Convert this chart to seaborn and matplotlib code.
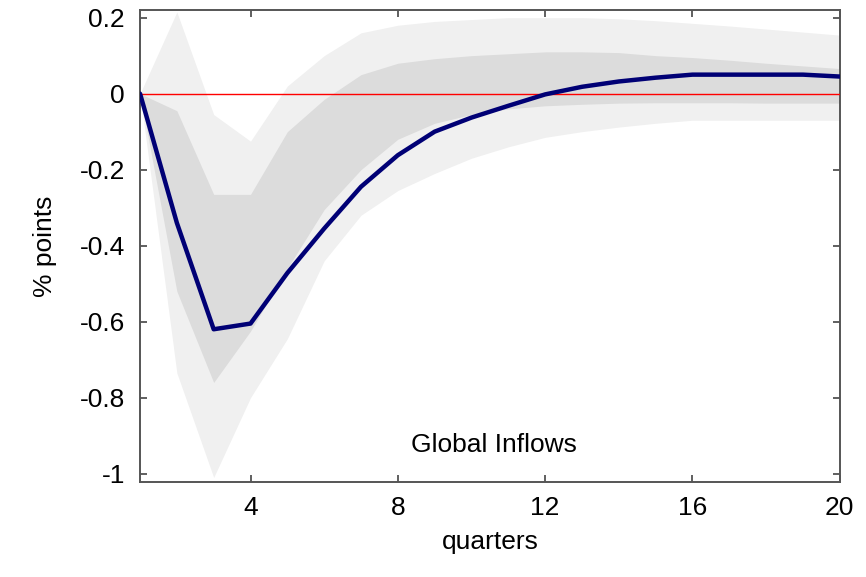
import numpy as np
import pandas as pd
import seaborn as sns
import matplotlib.pyplot as plt

# impulse response, quarters 1..20
quarters = list(range(1, 21))
response = [0.0, -0.34, -0.62, -0.605, -0.472, -0.355, -0.245, -0.162, -0.10, -0.063,
            -0.032, -0.002, 0.018, 0.032, 0.042, 0.05, 0.05, 0.05, 0.05, 0.045]
inner_upper = [0.0, -0.045, -0.265, -0.265, -0.10, -0.015, 0.05, 0.08, 0.092, 0.10,
               0.105, 0.11, 0.11, 0.108, 0.10, 0.095, 0.088, 0.08, 0.073, 0.066]
inner_lower = [0.0, -0.52, -0.76, -0.625, -0.46, -0.305, -0.20, -0.12, -0.078, -0.055,
               -0.04, -0.032, -0.028, -0.025, -0.024, -0.024, -0.024, -0.025, -0.025, -0.025]
outer_upper = [0.0, 0.215, -0.055, -0.125, 0.02, 0.10, 0.16, 0.18, 0.19, 0.195,
               0.20, 0.20, 0.20, 0.197, 0.192, 0.185, 0.178, 0.17, 0.162, 0.154]
outer_lower = [0.0, -0.735, -1.01, -0.80, -0.645, -0.44, -0.32, -0.255, -0.21, -0.17,
               -0.14, -0.115, -0.10, -0.088, -0.078, -0.07, -0.07, -0.07, -0.07, -0.07]
x_ticks = [4, 8, 12, 16, 20]
y_ticks = [0.2, 0, -0.2, -0.4, -0.6, -0.8, -1]
y_tick_labels = ['0.2', '0', '-0.2', '-0.4', '-0.6', '-0.8', '-1']

df = pd.DataFrame({'quarter': quarters, 'response': response})

sns.set_style('ticks')
plt.rcParams['font.family'] = ['Liberation Sans', 'DejaVu Sans']
plt.rcParams['text.color'] = 'black'
plt.rcParams['axes.labelcolor'] = 'black'
plt.rcParams['xtick.color'] = 'black'
plt.rcParams['ytick.color'] = 'black'

fig = plt.figure(figsize=(8.66, 5.77), dpi=100)
ax = fig.add_axes([0.1617, 0.1646, 0.808, 0.818])

ax.fill_between(quarters, outer_lower, outer_upper, color='#f0f0f0', lw=0, zorder=1)
ax.fill_between(quarters, inner_lower, inner_upper, color='#dcdcdc', lw=0, zorder=2)
ax.axhline(0, color='#ff0000', lw=1.0, zorder=3)
sns.lineplot(data=df, x='quarter', y='response', color='#000075', lw=3.2, ax=ax, zorder=4)

ax.set_xlim(1, 20)
ax.set_ylim(-1.022, 0.22)
ax.set_xticks(x_ticks)
ax.set_yticks(y_ticks)
ax.set_yticklabels(y_tick_labels)
ax.tick_params(direction='in', length=5, width=1.2, color='#444444',
               top=True, right=True, labelsize=19)
ax.tick_params(axis='y', pad=11)
ax.tick_params(axis='x', pad=10)
for s in ax.spines.values():
    s.set_color('#555555')
    s.set_linewidth(1.4)

ax.set_xlabel('quarters', fontsize=19, labelpad=7)
ax.set_ylabel('% points', fontsize=19, labelpad=16)
ax.text(10.6, -0.925, 'Global Inflows', fontsize=19, ha='center', va='center')

plt.savefig('out.png', dpi=100)
